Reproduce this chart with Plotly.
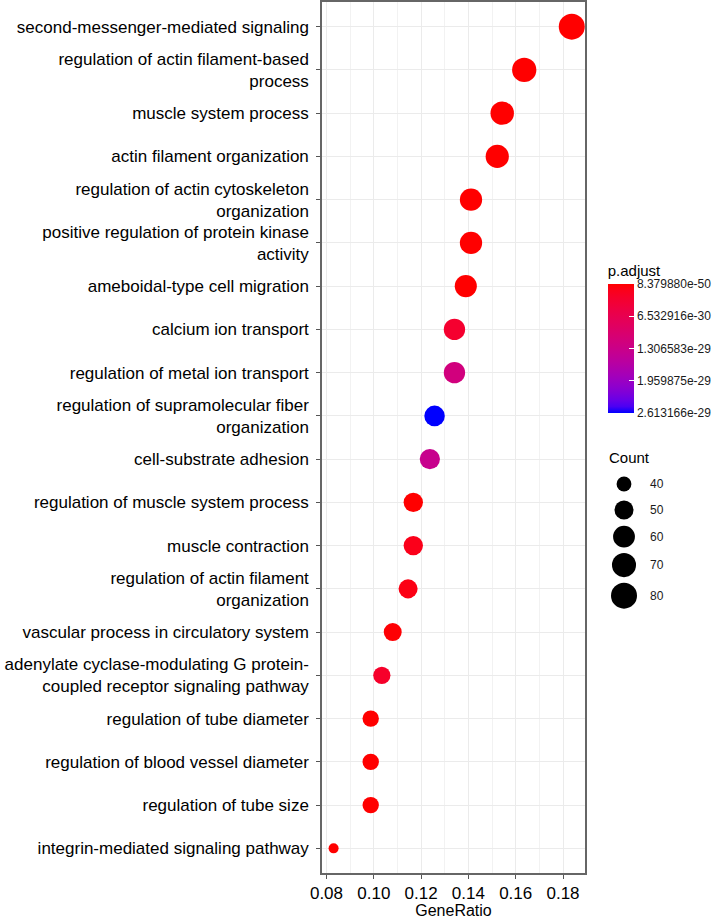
import numpy as np
import plotly.graph_objects as go

# ---------------- data ----------------
terms = [
    "second-messenger-mediated signaling",
    "regulation of actin filament-based<br>process",
    "muscle system process",
    "actin filament organization",
    "regulation of actin cytoskeleton<br>organization",
    "positive regulation of protein kinase<br>activity",
    "ameboidal-type cell migration",
    "calcium ion transport",
    "regulation of metal ion transport",
    "regulation of supramolecular fiber<br>organization",
    "cell-substrate adhesion",
    "regulation of muscle system process",
    "muscle contraction",
    "regulation of actin filament<br>organization",
    "vascular process in circulatory system",
    "adenylate cyclase-modulating G protein-<br>coupled receptor signaling pathway",
    "regulation of tube diameter",
    "regulation of blood vessel diameter",
    "regulation of tube size",
    "integrin-mediated signaling pathway",
]
gene_ratio = [0.1837, 0.1636, 0.1543, 0.1522, 0.1411, 0.1411, 0.1389, 0.1341, 0.1341, 0.1257,
              0.1237, 0.1167, 0.1167, 0.1145, 0.1080, 0.1034, 0.0987, 0.0987, 0.0987, 0.0830]
counts = [80, 71, 67, 66, 62, 62, 61, 58, 58, 55, 54, 51, 51, 50, 47, 45, 43, 43, 43, 36]
p_adjust = [8.37988e-50, 2.1e-45, 5.6e-44, 3.2e-42, 1.5e-38, 4.0e-37, 6.1e-35, 3.1e-30,
            1.18e-29, 2.613166e-29, 1.36e-29, 2.4e-34, 1.3e-30, 1.0e-30, 2.0e-31, 2.6e-30,
            1.0e-33, 2.0e-33, 3.0e-33, 1.0e-32]
legend_counts = [40, 50, 60, 70, 80]
color_ticks = [8.37988e-50, 6.532916e-30, 1.306583e-29, 1.959875e-29, 2.613166e-29]
x_ticks = [0.08, 0.10, 0.12, 0.14, 0.16, 0.18]

# ---------------- helpers ----------------
def srgb_to_lab(rgb):
    c = np.array(rgb, float) / 255
    c = np.where(c > 0.04045, ((c + 0.055) / 1.055) ** 2.4, c / 12.92)
    M = np.array([[0.4124, 0.3576, 0.1805], [0.2126, 0.7152, 0.0722], [0.0193, 0.1192, 0.9505]])
    xyz = M @ c / np.array([0.95047, 1.0, 1.08883])
    f = np.where(xyz > 216 / 24389, np.cbrt(xyz), (24389 / 27 * xyz + 16) / 116)
    return np.array([116 * f[1] - 16, 500 * (f[0] - f[1]), 200 * (f[1] - f[2])])

def lab_to_srgb(lab):
    L, a, b = lab
    fy = (L + 16) / 116
    fx = fy + a / 500
    fz = fy - b / 200
    f = np.array([fx, fy, fz])
    xyz = np.where(f ** 3 > 216 / 24389, f ** 3, (116 * f - 16) / (24389 / 27))
    xyz = xyz * np.array([0.95047, 1.0, 1.08883])
    Mi = np.array([[3.2406, -1.5372, -0.4986], [-0.9689, 1.8758, 0.0415], [0.0557, -0.2040, 1.0570]])
    c = Mi @ xyz
    c = np.where(c > 0.0031308, 1.055 * np.clip(c, 0, None) ** (1 / 2.4) - 0.055, 12.92 * c)
    c = np.clip(np.round(c * 255), 0, 255).astype(int)
    return f"rgb({c[0]},{c[1]},{c[2]})"

red_lab = srgb_to_lab((255, 0, 0))
blue_lab = srgb_to_lab((0, 0, 255))
n_stops = 21
# colour value is -p.adjust so that the smallest p.adjust (red) sits at the top of the bar
colorscale = [[i / (n_stops - 1), lab_to_srgb(blue_lab + (red_lab - blue_lab) * i / (n_stops - 1))]
              for i in range(n_stops)]

cmin_c, cmax_c = min(counts), max(counts)
def dot_diameter(c):
    s = 1 + 5 * np.sqrt(max(c - cmin_c, 0) / (cmax_c - cmin_c))
    return 6.8 + 3.2 * s

sizes = [dot_diameter(c) for c in counts]
leg_sizes = [dot_diameter(c) for c in legend_counts]

# legend key layout (pixel space of legend axis)
key_h = [max(d + 5.5, 26) for d in leg_sizes]
leg_y = [484.0]
for i in range(1, len(key_h)):
    leg_y.append(leg_y[-1] + (key_h[i - 1] + key_h[i]) / 2)

# ---------------- figure geometry ----------------
W, H = 724, 919
ml, mr, mt, mb = 322, 2, 2, 46
pw = W - ml - mr
ph = H - mt - mb
panel_right = 585
main_dom = (panel_right - ml) / pw
leg_x0 = 600

fig = go.Figure()

fig.add_trace(go.Scatter(
    x=gene_ratio, y=terms, mode="markers",
    marker=dict(
        size=sizes,
        color=[-p for p in p_adjust],
        colorscale=colorscale,
        cmin=-max(color_ticks), cmax=-min(color_ticks),
        line=dict(width=0),
        opacity=1,
        colorbar=dict(
            title=dict(text="p.adjust", side="top",
                       font=dict(family="Liberation Sans, Arial", size=15, color="black")),
            x=(607.7 - ml) / pw, xanchor="left", xpad=0, ypad=0,
            y=(mt + ph - 262) / ph, yanchor="top",
            thickness=26, lenmode="pixels", len=151,
            outlinewidth=0,
            tickvals=[-v for v in color_ticks],
            ticktext=[f"{v:.6e}" for v in color_ticks],
            ticks="inside", ticklen=5, tickcolor="white", tickwidth=1,
            tickfont=dict(family="Liberation Sans, Arial", size=12, color="#1a1a1a"),
        ),
    ),
    showlegend=False, hoverinfo="x+y",
    xaxis="x", yaxis="y",
))

# size legend drawn on its own small axis
fig.add_trace(go.Scatter(
    x=[624] * len(legend_counts), y=leg_y, mode="markers",
    marker=dict(size=leg_sizes, color="#000000", opacity=1, line=dict(width=0)),
    showlegend=False, hoverinfo="skip", xaxis="x2", yaxis="y2",
))
for yv, c in zip(leg_y, legend_counts):
    fig.add_annotation(x=648, y=yv, xref="x2", yref="y2", text=str(c), showarrow=False,
                       xanchor="left", yanchor="middle",
                       font=dict(family="Liberation Sans, Arial", size=12, color="#1a1a1a"))
fig.add_annotation(x=607, y=457, xref="x2", yref="y2", text="Count", showarrow=False,
                   xanchor="left", yanchor="middle",
                   font=dict(family="Liberation Sans, Arial", size=15, color="black"))

axis_font = dict(family="Liberation Sans, Arial", size=17, color="black")
fig.update_layout(
    width=W, height=H,
    margin=dict(l=ml, r=mr, t=mt, b=mb, pad=0),
    paper_bgcolor="white", plot_bgcolor="white",
    template="none",
    xaxis=dict(
        domain=[0, main_dom], range=[0.0781, 0.1893],
        tickvals=x_ticks, ticktext=[f"{v:.2f}" for v in x_ticks],
        tickfont=axis_font,
        ticks="outside", ticklen=4, tickcolor="#555", tickwidth=1,
        showgrid=True, gridcolor="#EBEBEB", gridwidth=1,
        minor=dict(dtick=0.01, tick0=0.08, showgrid=True, gridcolor="#F2F2F2", gridwidth=1, ticks=""),
        zeroline=False,
        showline=True, linecolor="#666", linewidth=1.5, mirror=True,
        title=dict(text="GeneRatio", font=dict(family="Liberation Sans, Arial", size=16, color="black"),
                   standoff=3),
    ),
    yaxis=dict(
        domain=[0, 1], type="category",
        categoryorder="array", categoryarray=terms,
        range=[len(terms) - 1 + 0.57, -0.57],
        tickfont=axis_font,
        ticks="outside", ticklen=4, tickcolor="#555", tickwidth=1,
        ticklabelstandoff=4,
        showgrid=True, gridcolor="#EBEBEB", gridwidth=1,
        zeroline=False,
        showline=True, linecolor="#666", linewidth=1.5, mirror=True,
    ),
    xaxis2=dict(domain=[(leg_x0 - ml) / pw, 1], range=[leg_x0, W - mr], anchor="y2",
                visible=False, fixedrange=True),
    yaxis2=dict(domain=[0, 1], range=[mt + ph, mt], anchor="x2",
                visible=False, fixedrange=True),
)

fig.write_html(
    "out.html",
    config={"displayModeBar": False},
    post_script="document.body.style.margin='0';document.body.style.overflow='hidden';",
)
